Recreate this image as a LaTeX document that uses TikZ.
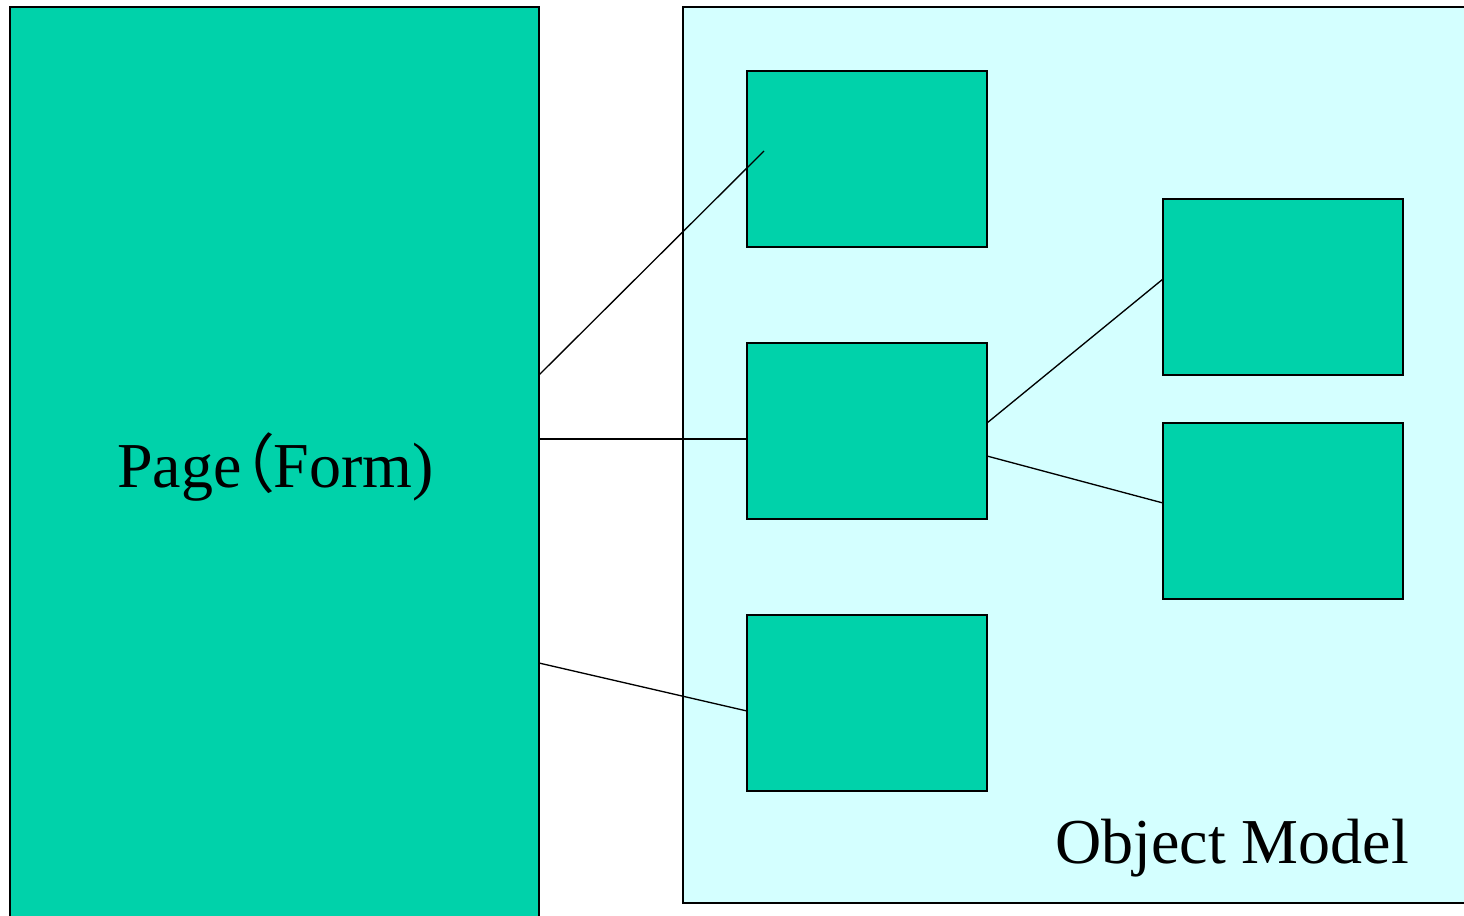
\documentclass[tikz,border=0pt]{standalone}
\usepackage{fontspec}
\setmainfont{Liberation Serif}
\newfontfamily\cjk[RawFeature=+palt]{Noto Sans CJK SC}
\definecolor{boxgreen}{RGB}{0,210,170}
\definecolor{panelcyan}{RGB}{212,255,255}
\begin{document}
\begin{tikzpicture}[x=0.75pt,y=-0.75pt,
  gbox/.style={draw=black,fill=boxgreen,line width=1pt},
  lnk/.style={draw=black,line width=1pt},
  lbl/.style={font=\fontsize{48}{58}\selectfont,text=black,inner sep=0pt}]
\useasboundingbox (0,0) rectangle (1464,915);
\clip (0,0) rectangle (1464,915);
% left page
\draw[gbox] (10,7) rectangle (539,930);
% object model panel
\draw[draw=black,fill=panelcyan,line width=1pt] (683,7) rectangle (1480,903);
% boxes
\draw[gbox] (747,71) rectangle (987,247);
\draw[gbox] (747,343) rectangle (987,519);
\draw[gbox] (747,615) rectangle (987,791);
\draw[gbox] (1163,199) rectangle (1403,375);
\draw[gbox] (1163,423) rectangle (1403,599);
% anchor coordinates
\coordinate (p1) at (539,375);
\coordinate (p2) at (539,439);
\coordinate (p3) at (539,663);
\coordinate (t1) at (764,151);
\coordinate (m2) at (747,439);
\coordinate (b3) at (747,711);
\coordinate (mr1) at (987,423);
\coordinate (mr2) at (987,456);
\coordinate (r1) at (1163,279);
\coordinate (r2) at (1163,503);
\draw[lnk] (p1) -- (t1);
\draw[lnk] (p2) -- (m2);
\draw[lnk] (p3) -- (b3);
\draw[lnk] (mr1) -- (r1);
\draw[lnk] (mr2) -- (r2);
% labels
\node[lbl,anchor=base west] (pagelbl) at (117,487) {Page{\cjk （}Form)};
\node[lbl,anchor=base west] (omlbl) at (1055,863) {Object Model};
\end{tikzpicture}
\end{document}
